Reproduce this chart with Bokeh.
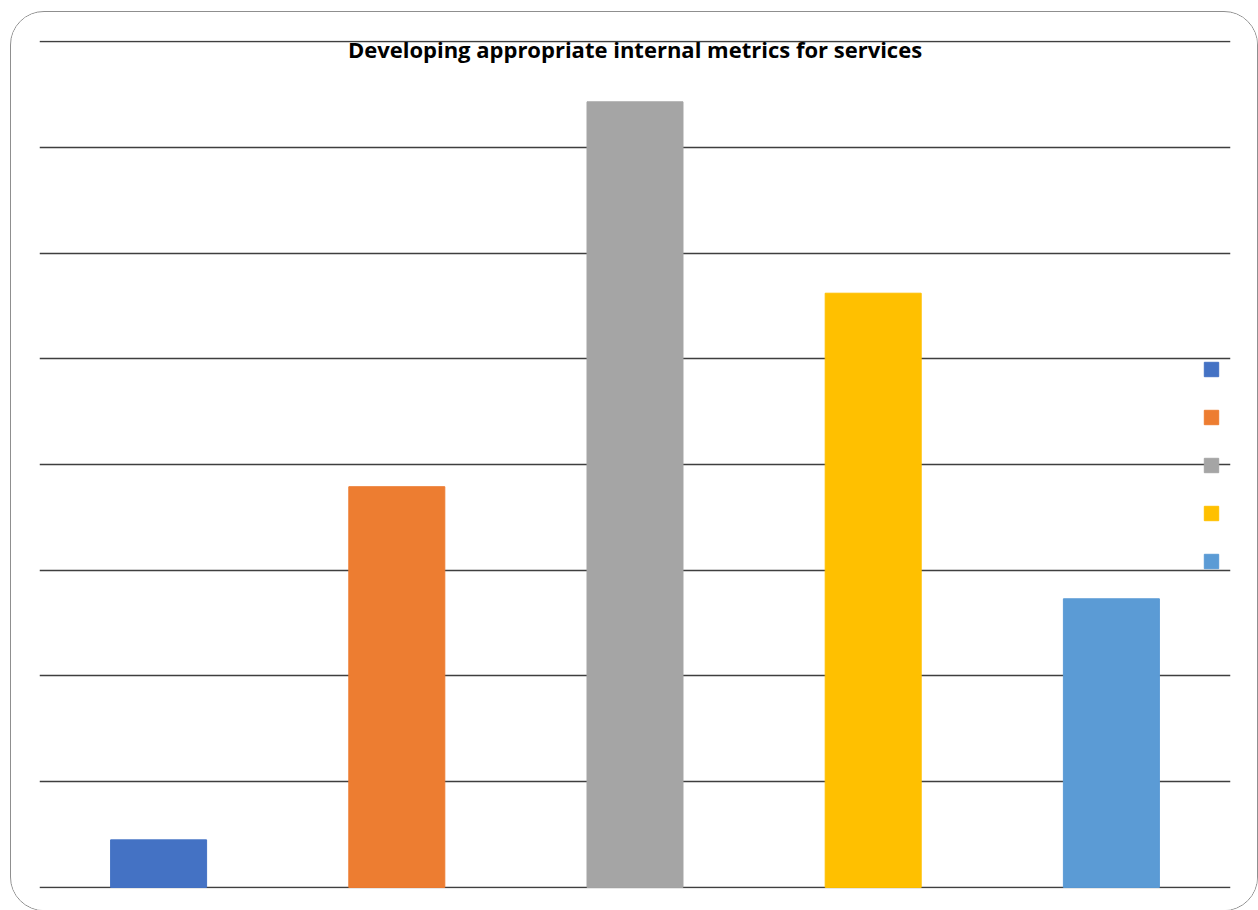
from bokeh.plotting import figure
from bokeh.models import (ColumnDataSource, FactorRange, Range1d, FixedTicker,
                          Legend, LegendItem, Label)
from bokeh.embed import file_html
from bokeh.resources import INLINE

# ---- data ----
categories = ["1", "2", "3", "4", "5"]
values = [0.45, 3.79, 7.43, 5.62, 2.73]
colors = ["#4472C4", "#ED7D31", "#A5A5A5", "#FFC000", "#5B9BD5"]
grid_ticks = [0, 1, 2, 3, 4, 5, 6, 7, 8]
title_text = "Developing appropriate internal metrics for services"

source = ColumnDataSource(dict(cat=categories, val=values, color=colors))

p = figure(
    width=1248, height=900,
    x_range=FactorRange(factors=categories, range_padding=0),
    y_range=Range1d(-0.01, 8.01),
    output_backend="svg", toolbar_location=None,
    min_border_left=28, min_border_right=29,
    min_border_top=28, min_border_bottom=24,
    background_fill_color="white", border_fill_color="white",
)
p.styles = {
    "margin-left": "10px", "margin-top": "11px",
    "border": "1.5px solid #8f8f8f", "border-radius": "34px",
    "overflow": "hidden",
}
p.outline_line_color = None

r = p.vbar(x="cat", top="val", width=0.403, color="color", source=source)

p.xaxis.visible = False
p.yaxis.visible = False
p.xgrid.grid_line_color = None
p.ygrid.ticker = FixedTicker(ticks=grid_ticks)
p.ygrid.grid_line_color = "#3f3f3f"
p.ygrid.grid_line_width = 1.5
p.ygrid.level = "underlay"

p.add_layout(Label(x=2.5, y=8, text=title_text, text_align="center",
                   text_baseline="middle", y_offset=-7,
                   text_font="Open Sans", text_font_style="bold",
                   text_font_size="22px", text_color="black"))

items = [LegendItem(label=" ", renderers=[r], index=i) for i in range(len(categories))]
legend = Legend(items=items, location=(1163, 318),
                glyph_width=18, glyph_height=18, label_height=18,
                label_width=0, label_standoff=0, spacing=30,
                padding=0, margin=0, border_line_color=None,
                background_fill_alpha=0)
p.add_layout(legend, "center")

open("out.html", "w").write(file_html(p, INLINE))
